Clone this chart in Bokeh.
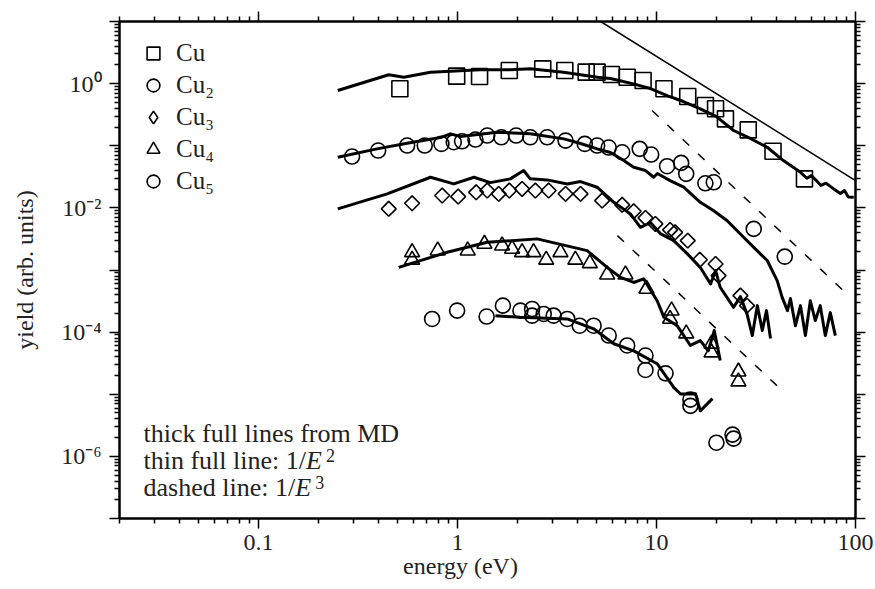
from bokeh.plotting import figure
from bokeh.models import LogAxis, FixedTicker, Legend, LegendItem, Label
from bokeh.embed import file_html
from bokeh.resources import INLINE

FONT = "Liberation Serif"

# ---------------- data (energy in eV, yield in arb. units) ----------------
cu_E = [0.513, 0.99, 1.29, 1.82, 2.68, 3.46, 4.43, 5.03, 5.93, 7.12, 8.56, 10.9,
        14.35, 17.6, 19.8, 22.2, 28.9, 38.5, 55.4]
cu_Y = [0.825, 1.32, 1.30, 1.63, 1.73, 1.63, 1.53, 1.53, 1.40, 1.27, 1.12, 0.825,
        0.62, 0.444, 0.393, 0.271, 0.180, 0.0815, 0.0293]

cu_md_E = [0.25, 0.451, 0.537, 0.731, 0.921, 1.30, 1.84, 2.32, 3.41, 5.05, 5.87, 7.65,
           9.32, 11.3, 13.65, 16.6, 20.0, 24.4, 29.6, 36.0, 43.4, 52.9, 57.0, 60.0,
           63.6, 67.0, 71.0, 77.7, 84.0, 88.0, 92.0, 98.0]
cu_md_Y = [0.774, 1.39, 1.27, 1.53, 1.58, 1.67, 1.67, 1.73, 1.53, 1.27, 1.21, 0.99,
           0.834, 0.643, 0.515, 0.393, 0.295, 0.176, 0.131, 0.0946, 0.0578, 0.0374, 0.0300, 0.0330,
           0.0275, 0.0230, 0.0250, 0.0202, 0.0170, 0.0190, 0.0150, 0.0148]

cu2_E = [0.295, 0.399, 0.558, 0.684, 0.83, 0.957, 1.054, 1.23, 1.41, 1.66, 1.97, 2.32,
         2.82, 3.49, 4.36, 5.03, 5.75, 6.72, 8.23, 9.40, 11.3, 13.3, 14.1, 17.6, 19.4,
         30.8, 44.1]
cu2_Y = [0.067, 0.0837, 0.1007, 0.1007, 0.107, 0.114, 0.118, 0.126, 0.146, 0.137, 0.146,
         0.137, 0.137, 0.121, 0.107, 0.1007, 0.0935, 0.0786, 0.0891, 0.0722, 0.0468, 0.0530,
         0.0353, 0.0249, 0.0258, 0.00459, 0.00164]

cu2_md_E = [0.25, 0.394, 0.558, 0.82, 0.921, 1.034, 1.58, 2.32, 3.42, 4.15, 5.03, 5.87,
            6.84, 7.68, 8.80, 9.68, 10.1, 11.7, 13.7, 16.6, 19.3, 22.6, 27.4, 32.0, 36.0,
            40.4, 42.8, 45.5, 47.1, 49.9, 52.9, 56.0, 59.3, 62.8, 66.5, 70.5, 74.7, 79.2]
cu2_md_Y = [0.0653, 0.0891, 0.1097, 0.1355, 0.1555, 0.1407, 0.165, 0.1555, 0.129, 0.1085,
            0.0891, 0.0777, 0.0578, 0.0451, 0.0399, 0.0311, 0.0357, 0.0275, 0.0215, 0.0123,
            0.00905, 0.00625, 0.00336, 0.00205, 0.00142, 6.75e-4, 3.63e-4, 2.22e-4, 3.47e-4,
            1.27e-4, 2.67e-4, 8.8e-5, 3.2e-4, 1.53e-4, 2.67e-4, 8.8e-5, 2.06e-4, 8.8e-5]

cu3_E = [0.451, 0.591, 0.837, 1.007, 1.24, 1.41, 1.61, 1.82, 2.11, 2.46, 2.87, 3.49, 4.15,
         5.33, 6.72, 7.68, 8.80, 9.87, 11.7, 12.4, 14.35, 16.5, 19.8, 20.5, 26.4, 28.5]
cu3_Y = [0.00964, 0.01186, 0.0158, 0.0152, 0.0178, 0.0190, 0.0168, 0.0190, 0.0202, 0.0190,
         0.0190, 0.0168, 0.0168, 0.0131, 0.0112, 0.00882, 0.0069, 0.00552, 0.00442, 0.00404,
         0.00297, 0.00146, 0.00125, 8.1e-4, 3.87e-4, 2.67e-4]

cu3_md_E = [0.25, 0.443, 0.731, 0.957, 1.21, 1.46, 1.84, 2.15, 2.32, 2.82, 3.56, 4.15, 5.03,
            6.10, 7.39, 8.30, 9.32, 10.5, 12.2, 14.3, 16.6, 18.7, 19.8, 20.9, 24.4, 26.4,
            28.5, 30.3, 32.1, 34.0, 35.7, 37.4]
cu3_md_Y = [0.00964, 0.0168, 0.0311, 0.0243, 0.0311, 0.0255, 0.0293, 0.0399, 0.0293, 0.0282,
            0.0243, 0.0265, 0.0215, 0.0123, 0.0080, 0.00487, 0.0058, 0.00381, 0.00297, 0.00182,
            0.0011, 5.97e-4, 9.8e-4, 5.27e-4, 2.51e-4, 3.73e-4, 1.96e-4, 8.8e-5, 2.67e-4,
            1.06e-4, 2.22e-4, 7.9e-5]

cu4_E = [0.591, 0.591, 0.795, 1.125, 1.365, 1.675, 1.88, 2.11, 2.41, 2.79, 3.29, 3.91, 4.62,
         5.65, 6.98, 8.90, 11.9, 11.7, 14.1, 18.9, 18.9, 25.8, 25.8]
cu4_Y = [0.00193, 0.00146, 0.00205, 0.00205, 0.00263, 0.00247, 0.00219, 0.00193, 0.00193,
         0.00146, 0.00193, 0.00146, 0.00128, 8.43e-4, 8.43e-4, 4.96e-4, 2.22e-4, 1.63e-4,
         9.5e-5, 6.5e-5, 4.7e-5, 2.31e-5, 1.6e-5]

cu4_md_E = [0.506, 0.887, 1.41, 2.51, 4.48, 5.65, 6.59, 7.68, 8.62, 10.07, 10.9, 12.7, 14.8,
            16.6, 18.2, 19.5, 20.9]
cu4_md_Y = [0.0011, 0.00193, 0.00279, 0.00317, 0.00205, 0.0011, 7.6e-4, 6.3e-4, 7.2e-4,
            3.2e-4, 1.73e-4, 1.27e-4, 6.1e-5, 7.3e-5, 5.0e-5, 1.06e-4, 3.5e-5]

cu5_E = [0.745, 0.995, 1.40, 1.69, 2.07, 2.37, 2.37, 2.71, 3.04, 3.56, 4.11, 4.83, 5.75,
         7.12, 8.80, 8.80, 11.1, 14.8, 14.8, 20.0, 24.1, 24.4]
cu5_Y = [1.63e-4, 2.22e-4, 1.78e-4, 2.67e-4, 2.22e-4, 2.36e-4, 1.84e-4, 1.96e-4, 1.84e-4,
         1.63e-4, 1.27e-4, 1.27e-4, 8.8e-5, 6.1e-5, 4.2e-5, 2.46e-5, 2.17e-5, 8.2e-6, 6.5e-6,
         1.66e-6, 2.24e-6, 1.93e-6]

cu5_md_E = [1.55, 2.07, 3.56, 4.83, 6.10, 7.68, 10.07, 12.2, 13.2, 15.7, 16.6, 19.1]
cu5_md_Y = [1.84e-4, 1.73e-4, 1.63e-4, 1.13e-4, 6.5e-5, 5.0e-5, 3.1e-5, 1.29e-5, 1.01e-5,
            1.02e-5, 5.4e-6, 8.5e-6]

# 1/E^2 reference line (end points)
inv2_E = [5.24, 100.0]
inv2_Y = [10.0, 0.0275]

# 1/E^3 reference lines (end points)
inv3_lines = [
    ([9.50, 92.4], [0.369, 3.87e-4]),
    ([6.36, 44.5], [3.58e-3, 1.02e-5]),
]

legend_labels = ["Cu", "Cu\u2082", "Cu\u2083", "Cu\u2084", "Cu\u2085"]

x_major = [0.1, 1, 10, 100]
x_major_labels = ["0.1", "1", "10", "100"]
y_major = [1e-7, 1e-6, 1e-5, 1e-4, 1e-3, 1e-2, 1e-1, 1, 10]
y_major_labels = [" ", "10\u207b\u2076", " ", "10\u207b\u2074", " ", "10\u207b\u00b2", " ", "10\u2070", " "]

x_title = "energy (eV)"
y_title = "yield (arb. units)"

note_head = ["thick full lines from MD", "thin full line: 1/", "dashed line: 1/"]
note_italic = ["", "E", "E"]
note_power = ["", "2", "3"]

# ---------------- figure ----------------
p = figure(width=875, height=589, x_axis_type="log", y_axis_type="log",
           x_range=(0.02, 100), y_range=(1e-7, 10),
           output_backend="svg", toolbar_location=None,
           min_border_left=119, min_border_right=20, min_border_top=21, min_border_bottom=71)
p.grid.visible = False
p.outline_line_color = "black"
p.outline_line_width = 2
p.background_fill_color = "white"
p.border_fill_color = "white"

x_minor = [m * 10.0 ** k for k in range(-2, 2) for m in range(2, 10)]
y_minor = [m * 10.0 ** k for k in range(-7, 1) for m in range(2, 10)]


def style_axis(ax, major, minor, show_labels):
    ax.ticker = FixedTicker(ticks=major, minor_ticks=minor)
    ax.axis_line_width = 2
    ax.axis_line_color = "black"
    ax.major_tick_line_width = 1.5
    ax.minor_tick_line_width = 1.5
    ax.major_tick_out = 10
    ax.major_tick_in = 0
    ax.minor_tick_out = 5
    ax.minor_tick_in = 0
    ax.major_label_text_font = FONT
    ax.major_label_text_color = "#222222"
    if show_labels:
        ax.major_label_text_font_size = "24px"
        ax.major_label_standoff = 8
    else:
        ax.major_label_text_font_size = "1px"
        ax.major_label_standoff = 0
        ax.major_label_overrides = {v: " " for v in major}


def style_title(ax, text, standoff):
    ax.axis_label = text
    ax.axis_label_text_font = FONT
    ax.axis_label_text_font_size = "24px"
    ax.axis_label_text_font_style = "normal"
    ax.axis_label_text_color = "#222222"
    ax.axis_label_standoff = standoff


xax = p.xaxis[0]
style_axis(xax, x_major, x_minor, True)
xax.major_label_standoff = 6
xax.major_label_overrides = {v: s for v, s in zip(x_major, x_major_labels)}
# trailing no-break spaces shift the centred title left, under the "1" tick as in the original
style_title(xax, x_title + "\u00a0" * 9, 0)

yax = p.yaxis[0]
style_axis(yax, y_major, y_minor, True)
yax.major_label_overrides = {v: s for v, s in zip(y_major, y_major_labels)}
style_title(yax, y_title, 20)

top = LogAxis()
style_axis(top, x_major, x_minor, False)
p.add_layout(top, "above")
right = LogAxis()
style_axis(right, y_major, y_minor, False)
p.add_layout(right, "right")

# reference lines
p.line(inv2_E, inv2_Y, line_color="black", line_width=1.5)
for ex, ey in inv3_lines:
    p.line(ex, ey, line_color="black", line_width=1.5, line_dash="9 12")

# MD lines
for ex, ey in [(cu_md_E, cu_md_Y), (cu2_md_E, cu2_md_Y), (cu3_md_E, cu3_md_Y),
               (cu4_md_E, cu4_md_Y), (cu5_md_E, cu5_md_Y)]:
    p.line(ex, ey, line_color="black", line_width=3, line_join="round")

# markers
mk = dict(fill_color=None, line_color="black", line_width=1.6)
r1 = p.scatter(cu_E, cu_Y, marker="square", size=16, **mk)
r2 = p.scatter(cu2_E, cu2_Y, marker="circle", size=15, **mk)
r3 = p.scatter(cu3_E, cu3_Y, marker="square", angle=0.785398, size=10.5, **mk)
r4 = p.scatter(cu4_E, cu4_Y, marker="triangle", size=15, **mk)
r5 = p.scatter(cu5_E, cu5_Y, marker="circle", size=15, **mk)
# legend-only glyph for Cu3 (legend glyphs are drawn unrotated): NaN point is never drawn
r3_leg = p.scatter([float("nan")], [float("nan")], marker="diamond", size=15, **mk)

legend = Legend(items=[LegendItem(label=l, renderers=[r]) for l, r in
                       zip(legend_labels, [r1, r2, r3_leg, r4, r5])],
                location="top_left", border_line_color=None, background_fill_alpha=0,
                label_text_font=FONT, label_text_font_size="25px", label_text_color="#222222",
                glyph_width=36, glyph_height=32, label_height=32, spacing=0,
                label_standoff=5, margin=16, padding=9)
p.add_layout(legend)

# notes (baselines measured from the bottom of the frame)
note_y = [85, 58, 31.5]
note_head_w = [0, 162.5, 151.7]
for i, t in enumerate(note_head):
    p.add_layout(Label(x=24, y=note_y[i], x_units="screen", y_units="screen", text=t,
                       text_font=FONT, text_font_size="26px", text_color="#222222",
                       text_baseline="alphabetic"))
    if note_italic[i]:
        p.add_layout(Label(x=24 + note_head_w[i], y=note_y[i], x_units="screen",
                           y_units="screen", text=note_italic[i], text_font=FONT,
                           text_font_size="26px", text_font_style="italic",
                           text_color="#222222", text_baseline="alphabetic"))
        p.add_layout(Label(x=24 + note_head_w[i] + 20, y=note_y[i] + 5, x_units="screen",
                           y_units="screen", text=note_power[i], text_font=FONT,
                           text_font_size="18px", text_color="#222222",
                           text_baseline="alphabetic"))

open("out.html", "w").write(file_html(p, INLINE))
